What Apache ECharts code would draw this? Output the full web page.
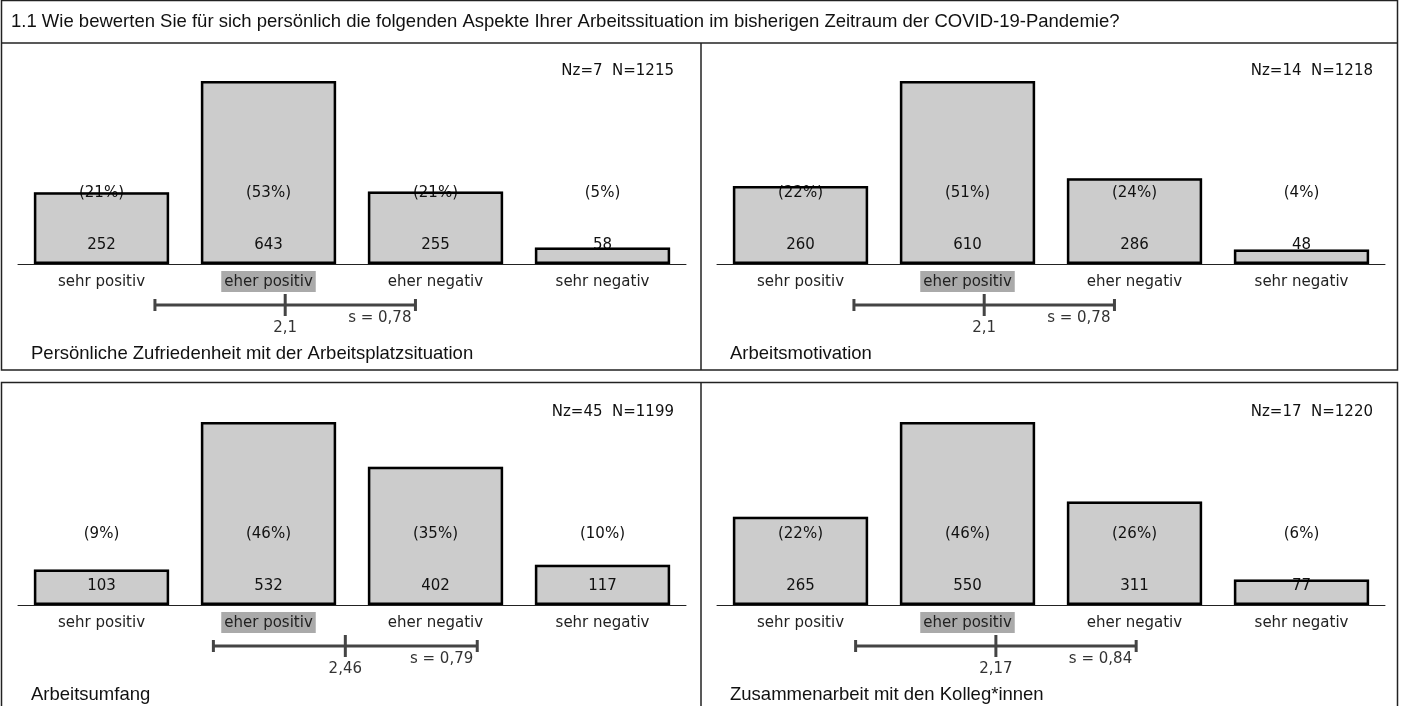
<!DOCTYPE html>
<html>
<head>
<meta charset="utf-8">
<title>Arbeitssituation COVID-19</title>
<script src="https://cdn.jsdelivr.net/npm/echarts@6/dist/echarts.min.js"></script>
<style>
    html, body { margin: 0; padding: 0; background: #fff; }
    #chart { width: 1402px; height: 706px; }
</style>
</head>
<body>
<div id="chart"></div>
<script>
var questionTitle = '1.1 Wie bewerten Sie für sich persönlich die folgenden Aspekte Ihrer Arbeitssituation im bisherigen Zeitraum der COVID-19-Pandemie?';
var categories = ['sehr positiv', 'eher positiv', 'eher negativ', 'sehr negativ'];
var panelTitles = [
    'Persönliche Zufriedenheit mit der Arbeitsplatzsituation',
    'Arbeitsmotivation',
    'Arbeitsumfang',
    'Zusammenarbeit mit den Kolleg*innen'
];
var countsZufriedenheit = [252, 643, 255, 58];
var countsMotivation = [260, 610, 286, 48];
var countsUmfang = [103, 532, 402, 117];
var countsZusammenarbeit = [265, 550, 311, 77];
var percentsZufriedenheit = [21, 53, 21, 5];
var percentsMotivation = [22, 51, 24, 4];
var percentsUmfang = [9, 46, 35, 10];
var percentsZusammenarbeit = [22, 46, 26, 6];
var nzValues = [7, 14, 45, 17];
var nValues = [1215, 1218, 1199, 1220];
var means = [2.1, 2.1, 2.46, 2.17];
var stdDevs = [0.78, 0.78, 0.79, 0.84];

(function (echarts) {
    'use strict';

    var counts = [countsZufriedenheit, countsMotivation, countsUmfang, countsZusammenarbeit];
    var percents = [percentsZufriedenheit, percentsMotivation, percentsUmfang, percentsZusammenarbeit];

    var labelFont = '15px "DejaVu Sans"';
    var textFont = '"Liberation Sans", Arial, sans-serif';

    // panel layout: 2 columns x 2 rows
    var colOffset = 699;
    var rowOffset = 341;

    function comma(v) {
        return String(v).replace('.', ',');
    }

    var grids = [], xAxes = [], yAxes = [], series = [], graphics = [];

    counts.forEach(function (data, i) {
        var col = i % 2, row = Math.floor(i / 2);
        var modeIdx = data.indexOf(Math.max.apply(null, data));

        grids.push({left: 18 + col * colOffset, top: 81 + row * rowOffset, width: 668, height: 183});

        xAxes.push({
            type: 'category',
            gridIndex: i,
            data: categories,
            axisLine: {lineStyle: {color: '#222', width: 1}},
            axisTick: {alignWithLabel: true, length: 5, lineStyle: {color: '#222'}},
            axisLabel: {
                interval: 0,
                margin: 7,
                formatter: function (value, idx) {
                    return (idx === modeIdx ? '{mode|' : '{norm|') + value + '}';
                },
                rich: {
                    norm: {padding: [4, 3, 2, 3], color: '#222', fontFamily: 'DejaVu Sans', fontSize: 15},
                    mode: {padding: [4, 3, 2, 3], backgroundColor: '#aaaaaa', color: '#222', fontFamily: 'DejaVu Sans', fontSize: 15}
                }
            }
        });
        xAxes.push({type: 'value', gridIndex: i, min: 0.5, max: 4.5, show: false});
        yAxes.push({type: 'value', gridIndex: i, min: 0, max: 'dataMax', show: false});

        series.push({
            type: 'bar',
            xAxisIndex: 2 * i,
            yAxisIndex: i,
            data: data,
            barWidth: '81%',
            barGap: '-100%',
            silent: true,
            z: 1,
            itemStyle: {color: '#cccccc'}
        });

        series.push({
            type: 'custom',
            xAxisIndex: 2 * i,
            yAxisIndex: i,
            silent: true,
            z: 2,
            data: data.map(function (c, j) { return [j, c, percents[i][j]]; }),
            renderItem: function (params, api) {
                var p = api.coord([api.value(0), 0]);
                return {
                    type: 'group',
                    children: [{
                        type: 'text',
                        style: {text: String(api.value(1)), x: p[0], y: p[1] - 19, align: 'center', verticalAlign: 'middle', font: labelFont, fill: '#111'}
                    }, {
                        type: 'text',
                        style: {text: '(' + api.value(2) + '%)', x: p[0], y: p[1] - 71, align: 'center', verticalAlign: 'middle', font: labelFont, fill: '#111'}
                    }]
                };
            }
        });

        series.push({
            type: 'bar',
            xAxisIndex: 2 * i,
            yAxisIndex: i,
            data: data,
            barWidth: '81%',
            barGap: '-100%',
            silent: true,
            z: 3,
            itemStyle: {color: 'rgba(0,0,0,0)', borderColor: '#000', borderWidth: 2.5}
        });

        // mean +/- standard deviation
        series.push({
            type: 'custom',
            xAxisIndex: 2 * i + 1,
            yAxisIndex: i,
            silent: true,
            clip: false,
            z: 4,
            data: [[means[i], stdDevs[i]]],
            renderItem: function (params, api) {
                var m = api.value(0), s = api.value(1);
                var c = api.coord([m, 0]);
                var l = api.coord([m - s, 0]);
                var r = api.coord([m + s, 0]);
                var y = c[1] + 41;
                var stroke = {stroke: '#444', lineWidth: 3};
                return {
                    type: 'group',
                    children: [
                        {type: 'line', shape: {x1: l[0], y1: y, x2: r[0], y2: y}, style: stroke},
                        {type: 'line', shape: {x1: l[0], y1: y - 6, x2: l[0], y2: y + 6}, style: stroke},
                        {type: 'line', shape: {x1: r[0], y1: y - 6, x2: r[0], y2: y + 6}, style: stroke},
                        {type: 'line', shape: {x1: c[0], y1: y - 11, x2: c[0], y2: y + 11}, style: stroke},
                        {type: 'text', style: {text: comma(m), x: c[0], y: y + 23, align: 'center', verticalAlign: 'middle', font: labelFont, fill: '#333'}},
                        {type: 'text', style: {text: 's = ' + comma(s), x: r[0] - 4, y: y + 13, align: 'right', verticalAlign: 'middle', font: labelFont, fill: '#333'}}
                    ]
                };
            }
        });

        graphics.push({
            type: 'text',
            style: {text: 'Nz=' + nzValues[i] + '  N=' + nValues[i], x: 674 + col * colOffset, y: 71 + row * rowOffset, textAlign: 'right', textVerticalAlign: 'middle', font: labelFont, fill: '#111'}
        });
        graphics.push({
            type: 'text',
            style: {text: panelTitles[i], x: 31 + col * colOffset, y: 354 + row * rowOffset, textAlign: 'left', textVerticalAlign: 'middle', font: '18.5px ' + textFont, fill: '#111'}
        });
    });

    // frames
    var frame = {stroke: '#222', lineWidth: 1.5, fill: null};
    graphics.push(
        {type: 'rect', shape: {x: 1.5, y: 0.5, width: 1396, height: 369.5}, style: frame},
        {type: 'line', shape: {x1: 1.5, y1: 43, x2: 1397.5, y2: 43}, style: frame},
        {type: 'line', shape: {x1: 701, y1: 43, x2: 701, y2: 370}, style: frame},
        {type: 'rect', shape: {x: 1.5, y: 382.5, width: 1396, height: 400}, style: frame},
        {type: 'line', shape: {x1: 701, y1: 382.5, x2: 701, y2: 706}, style: frame},
        {
            type: 'text',
            style: {text: questionTitle, x: 11, y: 22, textAlign: 'left', textVerticalAlign: 'middle', font: '18.5px ' + textFont, fill: '#111'}
        }
    );

    var chart = echarts.init(document.getElementById('chart'));
    chart.setOption({
        animation: false,
        grid: grids,
        xAxis: xAxes,
        yAxis: yAxes,
        series: series,
        graphic: graphics
    });
})(echarts);
</script>
</body>
</html>
